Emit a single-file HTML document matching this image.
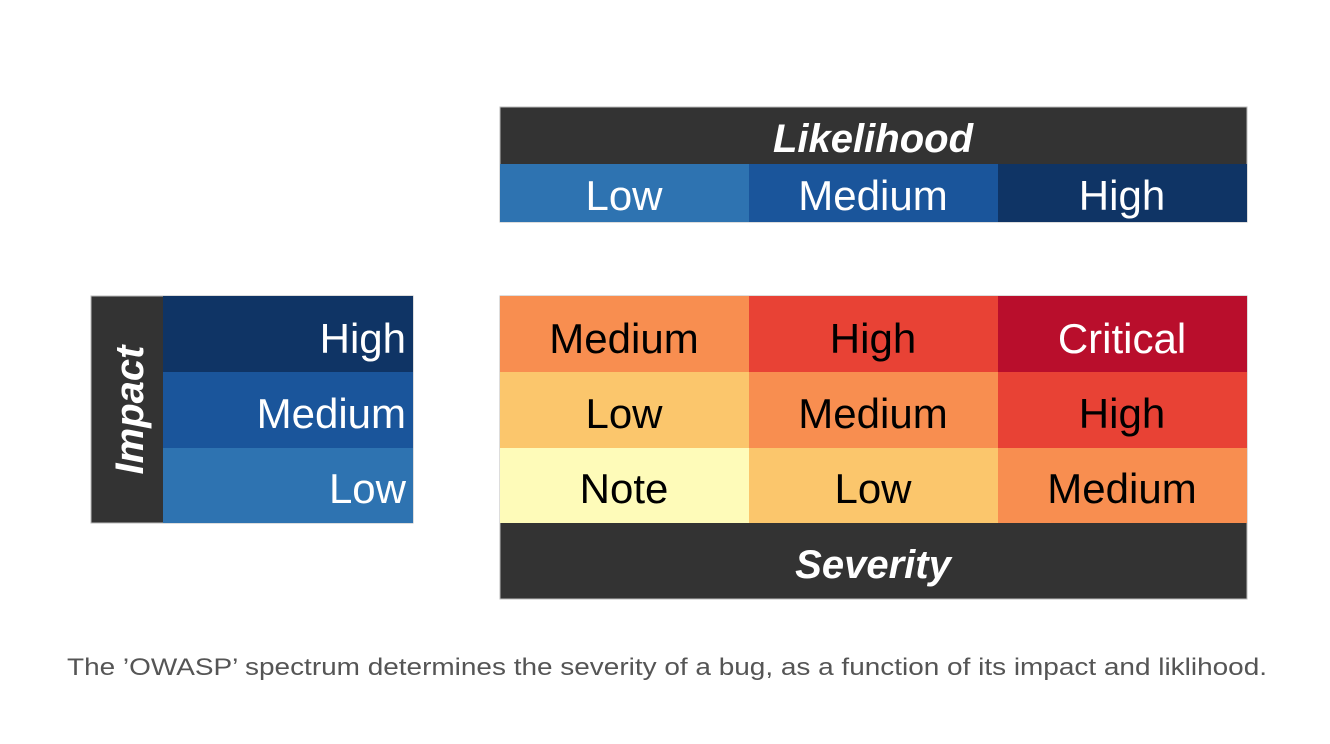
<!DOCTYPE html>
<html><head><meta charset="utf-8"><style>
html,body{margin:0;padding:0;background:#fff;width:1330px;height:744px;overflow:hidden}
svg text{font-family:"Liberation Sans","DejaVu Sans",sans-serif}
</style></head><body>
<svg width="1330" height="744" viewBox="0 0 1330 744">
<g>
<rect x="500" y="107" width="747" height="115" fill="#333" stroke="#bbb" stroke-width="1"/>
<text x="873" y="152" text-anchor="middle" font-size="40" font-weight="bold" font-style="italic" fill="#fff">Likelihood</text>
<rect x="500" y="164" width="249" height="58" fill="#2e73b1"/>
<rect x="749" y="164" width="249" height="58" fill="#1a559b"/>
<rect x="998" y="164" width="249" height="58" fill="#0f3465"/>
<text x="624" y="210" text-anchor="middle" font-size="42" fill="#fff">Low</text>
<text x="873" y="210" text-anchor="middle" font-size="42" fill="#fff">Medium</text>
<text x="1122" y="210" text-anchor="middle" font-size="42" fill="#fff">High</text>
</g>
<g>
<rect x="91" y="296" width="322" height="227" fill="#333" stroke="#bbb" stroke-width="1"/>
<text transform="translate(143,410) rotate(-90)" text-anchor="middle" font-size="40" font-weight="bold" font-style="italic" fill="#fff">Impact</text>
<rect x="163" y="296" width="250" height="76" fill="#0f3465"/>
<rect x="163" y="372" width="250" height="76" fill="#1a559b"/>
<rect x="163" y="448" width="250" height="75" fill="#2e73b1"/>
<text x="406" y="353" text-anchor="end" font-size="42" fill="#fff">High</text>
<text x="406" y="428" text-anchor="end" font-size="42" fill="#fff">Medium</text>
<text x="406" y="503" text-anchor="end" font-size="42" fill="#fff">Low</text>
</g>
<g>
<rect x="500" y="296" width="747" height="303" fill="#333" stroke="#bbb" stroke-width="1"/>
<rect x="500" y="296" width="249" height="76" fill="#f88e50"/>
<rect x="749" y="296" width="249" height="76" fill="#e84235"/>
<rect x="998" y="296" width="249" height="76" fill="#b90e2c"/>
<rect x="500" y="372" width="249" height="76" fill="#fbc66c"/>
<rect x="749" y="372" width="249" height="76" fill="#f88e50"/>
<rect x="998" y="372" width="249" height="76" fill="#e84235"/>
<rect x="500" y="448" width="249" height="75" fill="#fefbb9"/>
<rect x="749" y="448" width="249" height="75" fill="#fbc66c"/>
<rect x="998" y="448" width="249" height="75" fill="#f88e50"/>
<text x="624" y="353" text-anchor="middle" font-size="42" fill="#000">Medium</text>
<text x="873" y="353" text-anchor="middle" font-size="42" fill="#000">High</text>
<text x="1122" y="353" text-anchor="middle" font-size="42" fill="#fff">Critical</text>
<text x="624" y="428" text-anchor="middle" font-size="42" fill="#000">Low</text>
<text x="873" y="428" text-anchor="middle" font-size="42" fill="#000">Medium</text>
<text x="1122" y="428" text-anchor="middle" font-size="42" fill="#000">High</text>
<text x="624" y="503" text-anchor="middle" font-size="42" fill="#000">Note</text>
<text x="873" y="503" text-anchor="middle" font-size="42" fill="#000">Low</text>
<text x="1122" y="503" text-anchor="middle" font-size="42" fill="#000">Medium</text>
<text x="873" y="578" text-anchor="middle" font-size="40" font-weight="bold" font-style="italic" fill="#fff">Severity</text>
</g>
<text x="667" y="675" text-anchor="middle" font-size="24" fill="#555" textLength="1200" lengthAdjust="spacingAndGlyphs">The ’OWASP’ spectrum determines the severity of a bug, as a function of its impact and liklihood.</text>
</svg>
</body></html>
